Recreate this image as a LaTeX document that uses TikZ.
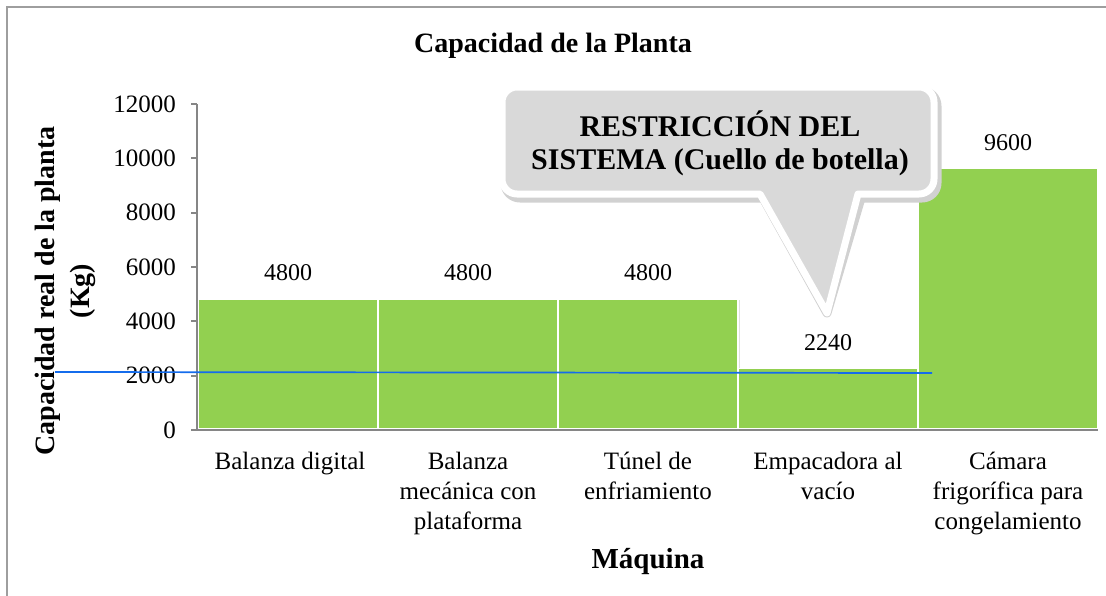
\documentclass[tikz,border=0pt]{standalone}
\usepackage{fontspec}
\setmainfont{Liberation Serif}
\usepackage{tikz}
\definecolor{bargreen}{RGB}{146,208,80}
\definecolor{notegray}{RGB}{217,217,217}
\definecolor{limitblue}{RGB}{20,108,236}
\definecolor{axisgray}{RGB}{134,134,134}
\tikzset{
frame/.style={draw=axisgray!80, line width=1.2pt},
axis/.style={draw=axisgray, line width=1.8pt},
bar/.style={fill=bargreen, draw=white, line width=1.6pt, minimum width=180pt, anchor=south, inner sep=0pt},
barshadow/.style={fill=black!12, minimum width=180pt, anchor=south, inner sep=0pt},
val/.style={inner sep=0pt, font=\fontsize{24}{30}\selectfont},
cat/.style={inner sep=0pt, align=center, anchor=north, font=\fontsize{25}{30}\selectfont},
tick/.style={inner sep=0pt, anchor=east, font=\fontsize{25}{30}\selectfont},
heading/.style={inner sep=0pt, font=\fontsize{28}{35}\selectfont\bfseries},
note/.style={fill=notegray, draw=white, line width=7pt, line join=round},
noteshadow/.style={draw=black!18, fill=black!18, line width=9pt, line join=round},
limit/.style={draw=limitblue, line width=1.7pt}
}
\usetikzlibrary{positioning}

\begin{document}
\begin{tikzpicture}[x=1pt, y=-1pt]
	\useasboundingbox (0,0) rectangle (1106,595);
	% outer frame
	\draw[frame] (7,600) -- (7,7) -- (1110,7);
	% ----
	\node[heading] (title) at (553,46) {Capacidad de la Planta};
	\node[heading, rotate=90, align=center] (ylab) at (65,291)
		{Capacidad real de la planta\\(Kg)};
	\node[heading, font=\fontsize{29}{35}\selectfont\bfseries] (xlab) at (648,562) {Máquina};
	% ---- bars
	\node[barshadow, minimum height=130.4pt] (s3) at (650,431) {};
	\node[barshadow, minimum height=60.9pt] (s4) at (830,431) {};
	\node[bar, minimum height=130.4pt] (b1) at (288,430) {};
	\node[bar, minimum height=130.4pt] (b2) at (468,430) {};
	\node[bar, minimum height=130.4pt] (b3) at (648,430) {};
	\node[bar, minimum height=60.9pt] (b4) at (828,430) {};
	\node[bar, minimum height=260.8pt] (b5) at (1008,430) {};
	% ---- values
	\node[val, above=17pt of b1] (v1) {4800};
	\node[val, above=17pt of b2] (v2) {4800};
	\node[val, above=17pt of b3] (v3) {4800};
	\node[val, above=17pt of b4] (v4) {2240};
	\node[val, above=17pt of b5] (v5) {9600};
	% ---- axes
	\coordinate (o) at (197,430);
	\coordinate (ytop) at (197,104);
	\coordinate (xend) at (1098,430);
	\draw[axis] (ytop) -- (o) -- (xend);
	\draw[axis] (191,430) -- (o);
	\draw[axis] (191,375.67) -- (197,375.67);
	\draw[axis] (191,321.33) -- (197,321.33);
	\draw[axis] (191,267) -- (197,267);
	\draw[axis] (191,212.67) -- (197,212.67);
	\draw[axis] (191,158.33) -- (197,158.33);
	\draw[axis] (191,104) -- (ytop);
	\node[tick] (t0) at (176,430) {0};
	\node[tick] (t2) at (176,375.67) {2000};
	\node[tick] (t4) at (176,321.33) {4000};
	\node[tick] (t6) at (176,267) {6000};
	\node[tick] (t8) at (176,212.67) {8000};
	\node[tick] (t10) at (176,158.33) {10000};
	\node[tick] (t12) at (176,104) {12000};
	% ---- categories
	\node[cat] (c1) at (290,452) {Balanza digital};
	\node[cat] (c2) at (468,452) {Balanza\\mecánica con\\plataforma};
	\node[cat] (c3) at (648,452) {Túnel de\\enfriamiento};
	\node[cat] (c4) at (828,452) {Empacadora al\\vacío};
	\node[cat] (c5) at (1008,452) {Cámara\\frigorífica para\\congelamiento};
	% ---- limit line
	\coordinate (lstart) at (55,372);
	\coordinate (lend) at (932,373);
	\draw[limit] (lstart) -- (lend);
	% ---- callout
	\coordinate (tip) at (827,313);
	\path[noteshadow, shift={(3,4)}]
		[rounded corners=15pt] (502,87) -- (934,87) -- (934,194)
		[sharp corners] -- (858,194) -- (tip) -- (760,194)
		[rounded corners=15pt] -- (502,194) -- cycle;
	\path[note]
		[rounded corners=15pt] (502,87) -- (934,87) -- (934,194)
		[sharp corners] -- (858,194) -- (tip) -- (760,194)
		[rounded corners=15pt] -- (502,194) -- cycle;
	\node[heading, align=center, font=\fontsize{30}{33}\selectfont\bfseries] (restr) at (720,143)
		{RESTRICCIÓN DEL\\SISTEMA (Cuello de botella)};
\end{tikzpicture}
\end{document}
